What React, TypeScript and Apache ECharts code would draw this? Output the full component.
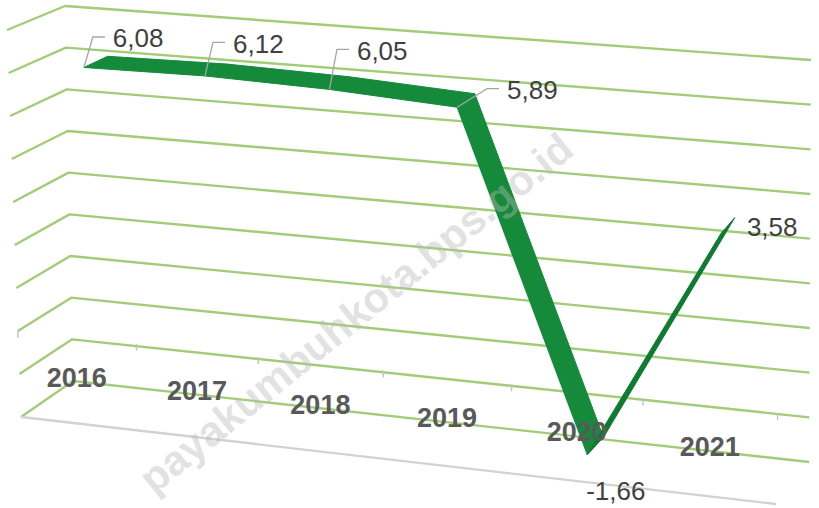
import React, { useEffect, useRef } from "react";
import * as echarts from "echarts";

// ---------- data ----------
const years = ["2016", "2017", "2018", "2019", "2020", "2021"];
const growth = [6.08, 6.12, 6.05, 5.89, -1.66, 3.58];
const gridValues = [7, 6, 5, 4, 3, 2, 1, 0, -1, -2];
const watermark = "payakumbuhkota.bps.go.id";

// ---------- layout (not data) ----------
// label offset from the ribbon's front point: [dx (text left), dy (text middle), leader?]
const labelLayout: [number, number, boolean][] = [
  [29, -29, true],
  [28, -32, true],
  [27.5, -38.5, true],
  [50, -17, true],
  [-1, 36.5, false],
  [26, -7, false],
];
// perspective box corners (B = back wall, F = front edge, L/R, T/B)
const BOX = {
  BLT: [65, 6], BLB: [73, 381], BRT: [811, 60], BRB: [809, 462],
  FLT: [7, 30], FLB: [21, 417], FRT: [783, 95], FRB: [776, 504],
};
const WARP = 0.076;
const DEPTH_BACK = 0.29;
const DEPTH_FRONT = 0.72;
const GRID_COLOR = "#a2cc78";

const Y_MIN = Math.min(...gridValues);
const Y_MAX = Math.max(...gridValues);
const X_MAX = years.length;

const fmt = (v: number) => v.toFixed(2).replace(".", ",");

function lerp(a: number[], b: number[], t: number) {
  return [a[0] + (b[0] - a[0]) * t, a[1] + (b[1] - a[1]) * t];
}
function project(u: number, t: number, d: number) {
  const w = u - WARP * u * (1 - u);
  const bl = lerp(BOX.BLT, BOX.BLB, t);
  const br = lerp(BOX.BRT, BOX.BRB, t);
  const fl = lerp(BOX.FLT, BOX.FLB, t);
  const fr = lerp(BOX.FRT, BOX.FRB, t);
  const back = lerp(bl, br, w);
  const front = lerp(fl, fr, w);
  return lerp(back, front, d);
}
function norm(api: any, params: any, x: number, v: number) {
  const p = api.coord([x, v]);
  const cs = params.coordSys;
  return [(p[0] - cs.x) / cs.width, (p[1] - cs.y) / cs.height];
}

function buildOption(): any {
  return {
    animation: false,
    backgroundColor: "#ffffff",
    grid: { left: 0, top: 0, right: 0, bottom: 0, containLabel: false },
    xAxis: { type: "value", min: 0, max: X_MAX, show: false },
    yAxis: { type: "value", min: Y_MIN, max: Y_MAX, interval: 1, show: false },
    series: [
      {
        type: "custom",
        name: "walls",
        z: 1,
        silent: true,
        clip: false,
        encode: { x: 0, y: 1 },
        data: gridValues.map((v) => [0, v]),
        renderItem: (params: any, api: any) => {
          const v = api.value(1);
          const [u0, t] = norm(api, params, 0, v);
          const [u1] = norm(api, params, X_MAX, v);
          const pts = [project(u0, t, 1), project(u0, t, 0), project(u1, t, 0)];
          const children: any[] = [
            {
              type: "polyline",
              shape: { points: pts },
              style: { stroke: GRID_COLOR, lineWidth: 2.4, fill: null, lineJoin: "round" },
            },
          ];
          if (v === Y_MIN) {
            const a = project(u0, t, 1);
            const b = project(u1, t, 1);
            children.push({
              type: "line",
              shape: { x1: a[0], y1: a[1], x2: b[0], y2: b[1] },
              style: { stroke: "#d2d2d2", lineWidth: 2.4 },
            });
          }
          return { type: "group", children };
        },
      },
      {
        type: "custom",
        name: "ticks",
        z: 2,
        silent: true,
        clip: false,
        encode: { x: 0, y: 1 },
        data: Array.from({ length: years.length + 1 }, (_, i) => [i, 0]),
        renderItem: (params: any, api: any) => {
          const [u, t] = norm(api, params, api.value(0), api.value(1));
          const p = project(u, t, 1);
          return {
            type: "line",
            shape: { x1: p[0], y1: p[1], x2: p[0], y2: p[1] + 7 },
            style: { stroke: "#c4c4c4", lineWidth: 1.5 },
          };
        },
      },
      {
        type: "custom",
        name: "ribbon",
        z: 3,
        silent: true,
        clip: false,
        encode: { x: [0, 2], y: [1, 3] },
        data: growth.slice(0, -1).map((v, i) => [i + 0.5, v, i + 1.5, growth[i + 1]]),
        renderItem: (params: any, api: any) => {
          const a = norm(api, params, api.value(0), api.value(1));
          const b = norm(api, params, api.value(2), api.value(3));
          const up = api.value(3) > api.value(1) + 0.5;
          const fill = up ? "#0f7b31" : "#148a3a";
          const pts = [
            project(a[0], a[1], DEPTH_BACK),
            project(b[0], b[1], DEPTH_BACK),
            project(b[0], b[1], DEPTH_FRONT),
            project(a[0], a[1], DEPTH_FRONT),
          ];
          return {
            type: "polygon",
            shape: { points: pts },
            style: { fill, stroke: fill, lineWidth: 1, lineJoin: "round" },
          };
        },
      },
      {
        type: "custom",
        name: "labels",
        z: 4,
        silent: true,
        clip: false,
        encode: { x: 0, y: 1 },
        data: growth.map((v, i) => [i + 0.5, v]),
        renderItem: (params: any, api: any) => {
          const idx = params.dataIndex;
          const x = api.value(0);
          const v = api.value(1);
          const [u, t] = norm(api, params, x, v);
          const p = project(u, t, DEPTH_FRONT);
          const [ox, oy, leader] = labelLayout[idx];
          const children: any[] = [];
          if (leader) {
            children.push({
              type: "polyline",
              shape: {
                points: [
                  [p[0], p[1]],
                  [p[0] + ox - 20, p[1] + oy - 1.5],
                  [p[0] + ox - 8, p[1] + oy - 1.5],
                ],
              },
              style: { stroke: "#a6a6a6", lineWidth: 1.3, fill: null },
            });
          }
          children.push({
            type: "text",
            style: {
              text: fmt(v),
              x: p[0] + ox,
              y: p[1] + oy,
              fill: "#404040",
              font: '26px "Liberation Sans", Arial, sans-serif',
              align: "left",
              verticalAlign: "middle",
              textAlign: "left",
              textVerticalAlign: "middle",
            },
          });
          const [cu, ct] = norm(api, params, x, 0);
          const c = project(cu, ct, 1);
          children.push({
            type: "text",
            style: {
              text: years[idx],
              x: c[0],
              y: c[1] + 41,
              fill: "#595959",
              font: 'bold 27px "Liberation Sans", Arial, sans-serif',
              align: "center",
              verticalAlign: "middle",
              textAlign: "center",
              textVerticalAlign: "middle",
            },
          });
          return { type: "group", children };
        },
      },
    ],
    graphic: [
      {
        type: "text",
        silent: true,
        z: 100,
        x: 356,
        y: 313,
        rotation: (39 * Math.PI) / 180,
        style: {
          text: watermark,
          font: 'bold 42px "Liberation Sans", Arial, sans-serif',
          fill: "rgba(185,185,185,0.42)",
          align: "center",
          verticalAlign: "middle",
          textAlign: "center",
          textVerticalAlign: "middle",
        },
      },
    ],
  };
}

export default function App() {
  const ref = useRef<HTMLDivElement>(null);
  useEffect(() => {
    if (!ref.current) return;
    const chart = echarts.init(ref.current, null, { renderer: "svg" });
    chart.setOption(buildOption());
    return () => chart.dispose();
  }, []);
  return (
    <div
      ref={ref}
      style={{ position: "fixed", left: 0, top: 0, width: 819, height: 508, background: "#fff" }}
    />
  );
}
